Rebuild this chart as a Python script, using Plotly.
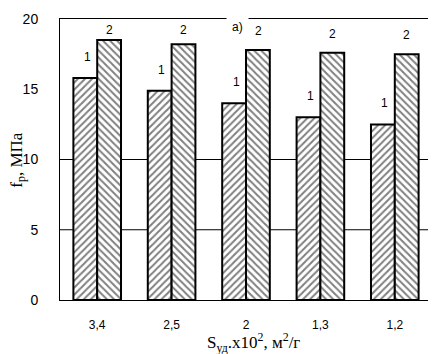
import plotly.graph_objects as go

categories = ["3,4", "2,5", "2", "1,3", "1,2"]
series1 = [15.8, 14.9, 14.0, 13.0, 12.5]
series2 = [18.5, 18.2, 17.8, 17.6, 17.5]
series_labels = ["1", "2"]
y_ticks = [0, 5, 10, 15, 20]
grid_vals = [5, 10]

fig = go.Figure()
fig.add_trace(go.Bar(
    x=categories, y=series1, name=series_labels[0],
    marker=dict(color="white", line=dict(color="black", width=2),
                pattern=dict(shape="/", fgcolor="black", bgcolor="white", size=5, solidity=0.4)),
))
fig.add_trace(go.Bar(
    x=categories, y=series2, name=series_labels[1],
    marker=dict(color="white", line=dict(color="black", width=2),
                pattern=dict(shape="\\", fgcolor="black", bgcolor="white", size=5, solidity=0.4)),
))

for g in grid_vals:
    fig.add_shape(type="line", xref="paper", yref="y", x0=0, x1=1, y0=g, y1=g,
                  line=dict(color="black", width=1), layer="below")

annos = []
for i, c in enumerate(categories):
    annos.append(dict(x=c, y=series1[i] + 1.5, text=series_labels[0], showarrow=False,
                      xshift=-10, font=dict(family="Liberation Sans", size=12, color="black")))
    annos.append(dict(x=c, y=min(series2[i] + 1.35, 19.2), text=series_labels[1], showarrow=False,
                      xshift=12, font=dict(family="Liberation Sans", size=12, color="black")))

annos.append(dict(xref="paper", yref="paper", x=(238 - 60) / 373, y=1, yshift=5,
                  text="а)", showarrow=False, bgcolor="white", borderpad=5,
                  font=dict(family="Liberation Sans", size=12, color="black")))
annos.append(dict(xref="paper", yref="paper", x=-0.115, y=0.5, xanchor="center", yanchor="middle",
                  text="f<sub>р</sub>, МПа", textangle=-90, showarrow=False,
                  font=dict(family="Liberation Serif", size=17, color="black")))
annos.append(dict(xref="paper", yref="paper", x=(254 - 60) / 373, y=-0.153, xanchor="center", yanchor="middle",
                  text="S<sub>уд</sub>.x10<sup>2</sup>, м<sup>2</sup>/г", showarrow=False,
                  font=dict(family="Liberation Serif", size=17, color="black")))

fig.update_layout(
    width=428, height=346,
    margin=dict(l=52, r=3, t=9, b=54),
    paper_bgcolor="white", plot_bgcolor="white",
    barmode="group", bargap=0.36, bargroupgap=0,
    showlegend=False,
    annotations=annos,
    xaxis=dict(showline=True, mirror=True, linecolor="black", linewidth=1,
               showgrid=False, ticks="", ticklabelstandoff=14,
               tickfont=dict(family="Liberation Sans", size=12, color="black")),
    yaxis=dict(range=[0, 20], tickvals=y_ticks, showline=True, mirror=True, linecolor="black",
               linewidth=1, showgrid=False, zeroline=False, ticks="", ticklabelstandoff=18,
               tickfont=dict(family="Liberation Sans", size=14, color="black")),
)

fig.write_html("out.html")
